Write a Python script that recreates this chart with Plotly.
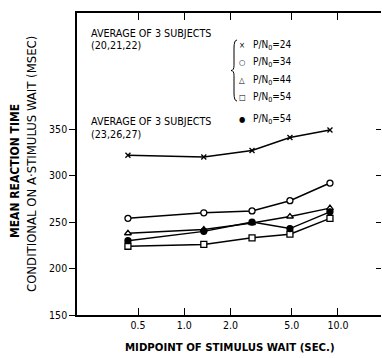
import plotly.graph_objects as go

# ---- data ----
wait_mid = [0.43, 1.34, 2.76, 4.87, 8.87]          # midpoint of stimulus wait (sec)
rt_pn24 = [322, 320, 327, 341, 349]                 # subjects 20,21,22  P/N0=24
rt_pn34 = [254, 260, 262, 273, 292]                 # P/N0=34
rt_pn44 = [238, 242, 249, 256, 265]                 # P/N0=44
rt_pn54 = [224, 226, 233, 237, 254]                 # P/N0=54
rt_pn54_b = [230, 240, 250, 243, 261]               # subjects 23,26,27  P/N0=54

x_tickvals = [0.5, 1.0, 2.0, 5.0, 10.0]
x_ticktext = ["0.5", "1.0", "2.0", "5.0", "10.0"]
y_tickvals = [150, 200, 250, 300, 350]
y_ticktext = ["150", "200", "250", "300", "350"]

FONT = "DejaVu Sans Condensed, Liberation Sans Narrow, sans-serif"
TICKFONT = "Liberation Sans Narrow, DejaVu Sans Condensed, sans-serif"
W, H = 382, 358
L, R, T, B = 77, 1, 13, 43

fig = go.Figure()

def add_series(y, symbol, fill, size):
    fig.add_trace(go.Scatter(
        x=wait_mid, y=y, mode="lines+markers",
        line=dict(color="black", width=1.5),
        marker=dict(symbol=symbol, size=size, color=fill,
                    line=dict(color="black", width=1.3)),
        showlegend=False, cliponaxis=False))

add_series(rt_pn24, "x-thin", "black", 5)
add_series(rt_pn34, "circle", "white", 6)
add_series(rt_pn44, "triangle-up", "white", 6)
add_series(rt_pn54, "square", "white", 6)
add_series(rt_pn54_b, "circle", "black", 6)

# empty trace to carry the right-hand tick axis
fig.add_trace(go.Scatter(x=[None], y=[None], yaxis="y2", showlegend=False))

# ---- helper for pixel -> paper conversion (annotation placement) ----
pw, ph = W - L - R, H - T - B
def px(x):
    return (x - L) / pw
def py(y):
    return (H - B - y) / ph

ann = []
def txt(x, y, s, size=10, xanchor="left", angle=0):
    ann.append(dict(x=px(x), y=py(y), xref="paper", yref="paper", text=s,
                    showarrow=False, xanchor=xanchor, yanchor="middle",
                    textangle=angle,
                    font=dict(family=FONT, size=size, color="black")))

txt(89, 33, "AVERAGE OF 3 SUBJECTS", size=10.7)
txt(89, 45, "(20,21,22)", size=10.7)
txt(89, 122, "AVERAGE OF 3 SUBJECTS", size=10.7)
txt(89, 134, "(23,26,27)", size=10.7)

legend_rows = [("×", "24", 45), ("○", "34", 62), ("△", "44", 80),
               ("□", "54", 97), ("●", "54", 119)]
for sym, val, yy in legend_rows:
    txt(242, yy, sym, size=8, xanchor="center")
    txt(251, yy, "P/N<sub>0</sub>=" + val, size=10)

# axis titles
txt(230, 347, "<b>MIDPOINT OF STIMULUS WAIT (SEC.)</b>", size=11.3, xanchor="center")
txt(15, 171, "<b>MEAN REACTION TIME</b>", size=12, xanchor="center", angle=-90)
txt(31, 164, "CONDITIONAL ON A·STIMULUS WAIT (MSEC)", size=13, xanchor="center", angle=-90)

# brace to the left of the legend
bx, by0, by1 = 234, 40, 101
bm = (by0 + by1) / 2
path = (f"M {px(bx+3)},{py(by0)} Q {px(bx)},{py(by0)} {px(bx)},{py(by0+8)} "
        f"L {px(bx)},{py(bm-5)} Q {px(bx)},{py(bm)} {px(bx-3)},{py(bm)} "
        f"Q {px(bx)},{py(bm)} {px(bx)},{py(bm+5)} "
        f"L {px(bx)},{py(by1-8)} Q {px(bx)},{py(by1)} {px(bx+3)},{py(by1)}")
shapes = [dict(type="path", xref="paper", yref="paper", path=path,
               line=dict(color="black", width=1))]

fig.update_layout(
    width=W, height=H,
    margin=dict(l=L, r=R, t=T, b=B, pad=0),
    paper_bgcolor="white", plot_bgcolor="white",
    font=dict(family=FONT, size=10, color="black"),
    annotations=ann, shapes=shapes,
    xaxis=dict(type="log", range=[-0.698, 1.28],
               tickvals=x_tickvals, ticktext=x_ticktext,
               ticks="inside", ticklen=7, tickwidth=1.2, tickcolor="black",
               showline=True, linecolor="black", linewidth=1.5,
               mirror="ticks", showgrid=False, zeroline=False,
               tickfont=dict(family=TICKFONT, size=10.5)),
    yaxis=dict(range=[150, 475],
               tickvals=y_tickvals, ticktext=y_ticktext,
               ticks="outside", ticklen=6, tickwidth=1.2, tickcolor="black",
               showline=True, linecolor="black", linewidth=1.5,
               showgrid=False, zeroline=False,
               tickfont=dict(family=TICKFONT, size=10.5)),
    yaxis2=dict(range=[150, 475], overlaying="y", side="right",
                tickvals=[200, 250, 300, 350], ticks="inside", ticklen=5,
                tickwidth=1.2, tickcolor="black",
                showline=False, showticklabels=False, showgrid=False,
                zeroline=False),
)

fig.write_html("out.html")
